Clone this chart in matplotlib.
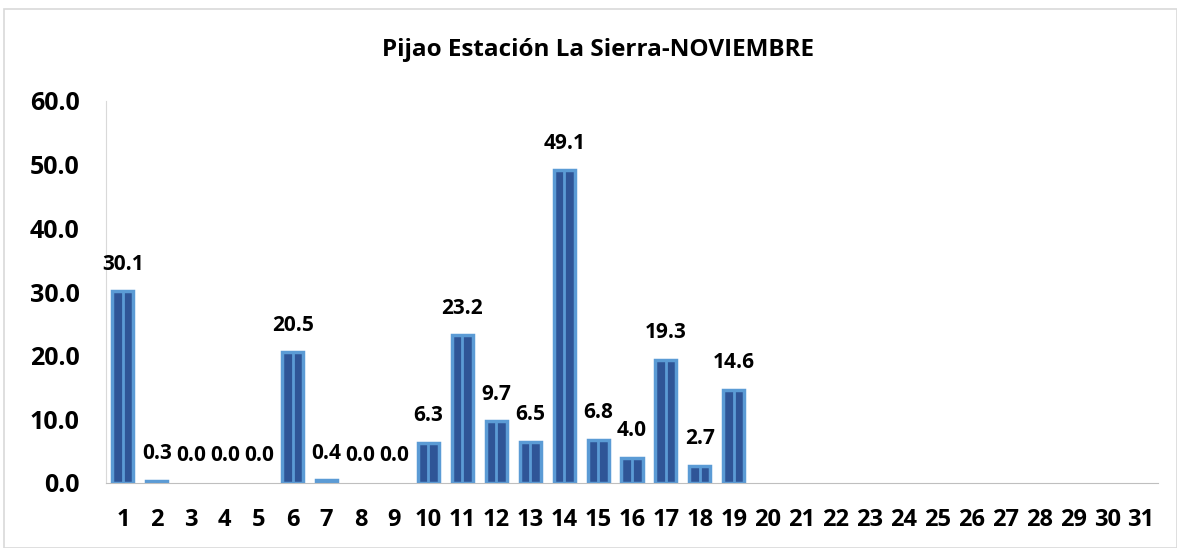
import matplotlib.pyplot as plt
import numpy as np
from matplotlib.patches import Rectangle

days = [str(d) for d in range(1, 32)]
rain = [30.1, 0.3, 0.0, 0.0, 0.0, 20.5, 0.4, 0.0, 0.0, 6.3, 23.2, 9.7, 6.5, 49.1,
        6.8, 4.0, 19.3, 2.7, 14.6] + [np.nan] * 12

plt.rcParams['font.family'] = ['Open Sans', 'DejaVu Sans']

fig = plt.figure(figsize=(11.77, 5.48), dpi=100)
ax = fig.add_axes([106 / 1177, 1 - 483 / 548, (1158 - 106) / 1177, (483 - 101) / 548])
fig.patches.append(Rectangle((4 / 1177, 0), 1 - 4 / 1177, 1 - 9 / 548, transform=fig.transFigure,
                             fill=False, edgecolor='#d9d9d9', linewidth=1.2))

x = np.arange(len(days))
vals = np.array(rain, dtype=float)
h = np.nan_to_num(vals)
bw = 0.62
edges = ['#5b9bd5' if v > 0 else 'none' for v in h]
ax.bar(x, h, bw, color='#2f5597', edgecolor=edges, linewidth=2.5, zorder=2)
ax.vlines(x[h > 0], 0, h[h > 0], color='#5b9bd5', linewidth=2, zorder=3)

for xi, v in zip(x, vals):
    if not np.isnan(v):
        ax.annotate(f"{v:.1f}", (xi, v), xytext=(0, 12), textcoords='offset points',
                    ha='center', va='bottom', fontsize=15, fontweight='bold')

ax.set_xlim(-0.5, len(days) - 0.5)
ax.set_ylim(0, 60)
ax.set_yticks(np.arange(0, 61, 10))
ax.set_yticklabels([f"{t:.1f}" for t in np.arange(0, 61, 10)], fontsize=18, fontweight='bold')
ax.set_xticks(x)
ax.set_xticklabels(days, fontsize=17, fontweight='bold')
ax.tick_params(axis='y', length=0, pad=19)
ax.tick_params(axis='x', length=0, pad=18)
for s in ['top', 'right']:
    ax.spines[s].set_visible(False)
ax.spines['left'].set_color('#d9d9d9')
ax.spines['bottom'].set_color('#bfbfbf')

fig.text(0.508, 1 - 50 / 548, 'Pijao Estación La Sierra-NOVIEMBRE', ha='center', va='center',
         fontsize=17.5, fontweight='bold')

plt.savefig('out.png', dpi=100)
